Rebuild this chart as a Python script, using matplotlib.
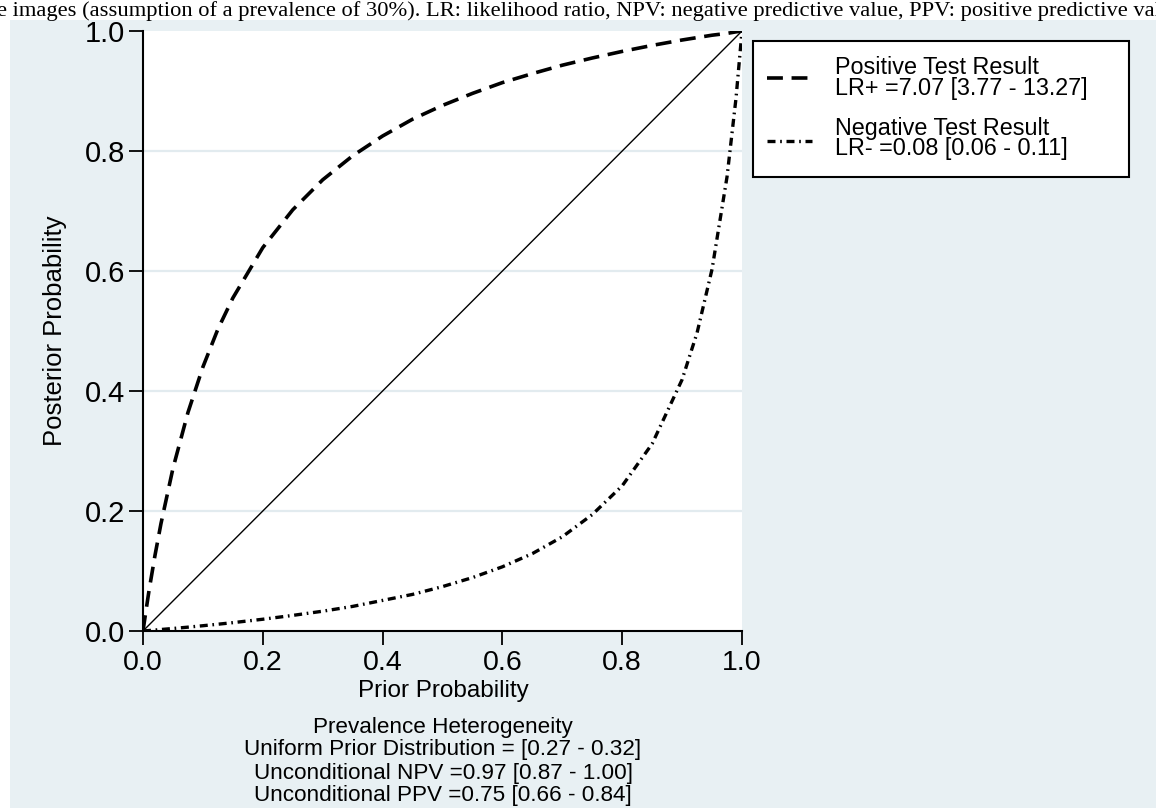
import matplotlib.pyplot as plt
from matplotlib.patches import Rectangle
from matplotlib.lines import Line2D

# values
prior = [0.0, 0.005, 0.01, 0.02, 0.03, 0.05, 0.075, 0.1, 0.125, 0.15, 0.2, 0.25,
         0.3, 0.35, 0.4, 0.45, 0.5, 0.55, 0.6, 0.65, 0.7, 0.75, 0.8, 0.85,
         0.9, 0.925, 0.95, 0.975, 0.99, 1.0]
post_positive = [0.0, 0.034, 0.067, 0.126, 0.179, 0.271, 0.364, 0.440, 0.503, 0.555,
                 0.639, 0.702, 0.752, 0.792, 0.825, 0.853, 0.876, 0.896, 0.914, 0.929,
                 0.943, 0.955, 0.966, 0.976, 0.985, 0.989, 0.993, 0.996, 0.9986, 1.0]
post_negative = [0.0, 0.0004, 0.0008, 0.0016, 0.0025, 0.0042, 0.0064, 0.0088, 0.0113,
                 0.0139, 0.0196, 0.026, 0.033, 0.041, 0.051, 0.061, 0.074, 0.089,
                 0.107, 0.129, 0.157, 0.194, 0.242, 0.312, 0.419, 0.497, 0.603,
                 0.757, 0.888, 1.0]
diag = [0.0, 1.0]

legend_labels = [["Positive Test Result", "LR+ =7.07 [3.77 - 13.27]"],
                 ["Negative Test Result", "LR- =0.08 [0.06 - 0.11]"]]
ticks = [0.0, 0.2, 0.4, 0.6, 0.8, 1.0]
note_lines = ["Prevalence Heterogeneity",
              "Uniform Prior Distribution = [0.27 - 0.32]",
              "Unconditional NPV =0.97 [0.87 - 1.00]",
              "Unconditional PPV =0.75 [0.66 - 0.84]"]
caption = ("e images (assumption of a prevalence of 30%). LR: likelihood ratio, "
           "NPV: negative predictive value, PPV: positive predictive value")

W, H = 1156, 808
BG = "#e8f0f3"
GRID = "#e2ebef"
SANS = ["Liberation Sans", "DejaVu Sans"]
SERIF = ["Liberation Serif", "DejaVu Serif"]
POS_STYLE = dict(color="black", lw=2.6, linestyle=(0, (4.4, 2.4)))
NEG_STYLE = dict(color="black", lw=2.4, linestyle=(0, (2.4, 1.4, 0.5, 1.4)))


def fx(px):
    return px / W


def fy(py):
    return 1 - py / H


def main():
    fig = plt.figure(figsize=(W / 100, H / 100), dpi=100)
    fig.patch.set_facecolor("white")
    fig.patches.append(Rectangle((fx(10), 0), 1, fy(20), transform=fig.transFigure,
                                 facecolor=BG, edgecolor="none", zorder=-10))

    ax = fig.add_axes([fx(143), fy(631), 599 / W, 600 / H])
    ax.set_facecolor("white")
    for y in ticks[1:-1]:
        ax.axhline(y, color=GRID, lw=1.6, zorder=0)

    ax.plot(diag, diag, color="black", lw=1.0, zorder=3)
    ax.plot(prior, post_positive, zorder=4, **POS_STYLE)
    ax.plot(prior, post_negative, zorder=4, **NEG_STYLE)

    ax.set_xlim(0, 1)
    ax.set_ylim(0, 1)
    ax.set_xticks(ticks)
    ax.set_yticks(ticks)
    ax.set_xticklabels([f"{t:.1f}" for t in ticks], fontsize=20.5, family=SANS)
    ax.set_yticklabels([f"{t:.1f}" for t in ticks], fontsize=21, family=SANS)
    ax.tick_params(direction="out", length=10, width=1.3, color="black", pad=3)
    ax.tick_params(axis="x", pad=4)
    for side in ["top", "right"]:
        ax.spines[side].set_visible(False)
    for side in ["left", "bottom"]:
        ax.spines[side].set_linewidth(1.5)
        ax.spines[side].set_color("black")

    fig.text(fx(443), fy(691), "Prior Probability", ha="center", va="center",
             fontsize=17.5, family=SANS)
    fig.text(fx(55), fy(331), "Posterior Probability", ha="center", va="center",
             rotation=90, fontsize=18.5, family=SANS)
    for i, line in enumerate(note_lines):
        fig.text(fx(443), fy(727 + 23 * i), line, ha="center", va="center",
                 fontsize=16.2, family=SANS)

    fig.text(fx(-3), fy(16), caption, ha="left", va="baseline",
             fontsize=16.2, family=SERIF)

    # legend box drawn by hand to match the reference layout
    fig.patches.append(Rectangle((fx(753), fy(177)), 376 / W, 136 / H,
                                 transform=fig.transFigure, facecolor="white",
                                 edgecolor="black", lw=1.5, zorder=5))
    for (top, bottom), style, ys in zip(legend_labels, [POS_STYLE, NEG_STYLE],
                                        [(67, 88, 78), (128, 149, 141)]):
        fig.lines.append(Line2D([fx(767), fx(812)], [fy(ys[2]), fy(ys[2])],
                                transform=fig.transFigure, zorder=6, **style))
        fig.text(fx(835), fy(ys[0]), top, ha="left", va="center", fontsize=16.8,
                 family=SANS, zorder=6)
        fig.text(fx(835), fy(ys[1]), bottom, ha="left", va="center", fontsize=16.8,
                 family=SANS, zorder=6)

    fig.savefig("out.png", dpi=100, facecolor=fig.get_facecolor())


if __name__ == "__main__":
    main()
